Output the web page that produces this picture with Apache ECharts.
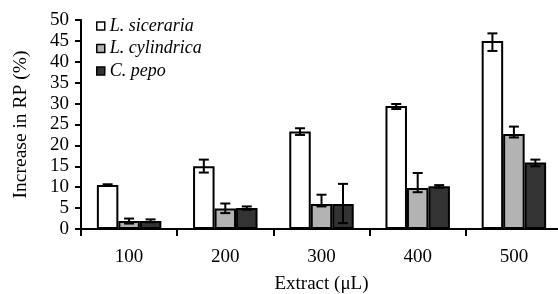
<!DOCTYPE html>
<html><head><meta charset="utf-8">
<script src="https://cdn.jsdelivr.net/npm/echarts@6/dist/echarts.min.js"></script>
<style>html,body{margin:0;padding:0;background:#fff}#c{width:558px;height:294px}</style>
</head><body><div id="c"></div>
<script>
const categories = ['100', '200', '300', '400', '500'];
const seriesNames = ['L. siceraria', 'L. cylindrica', 'C. pepo'];
const sicerariaValues = [10.5, 15.0, 23.3, 29.4, 45.0];
const sicerariaLow  = [10.3, 13.5, 22.5, 28.7, 42.6];
const sicerariaHigh = [10.7, 16.6, 24.1, 29.9, 46.8];
const cylindricaValues = [1.9, 4.9, 6.0, 9.8, 22.7];
const cylindricaLow  = [1.3, 3.8, 5.4, 8.8, 21.9];
const cylindricaHigh = [2.5, 6.1, 8.2, 13.4, 24.5];
const pepoValues = [1.9, 5.0, 6.0, 10.2, 15.9];
const pepoLow  = [1.6, 4.6, 1.4, 9.9, 15.0];
const pepoHigh = [2.3, 5.4, 10.8, 10.5, 16.6];
const yTicks = { min: 0, max: 50, interval: 5 };

const font = '"Liberation Serif", "Times New Roman", serif';
const fills = ['#ffffff', '#b3b3b3', '#333333'];
const values = [sicerariaValues, cylindricaValues, pepoValues];
const lows = [sicerariaLow, cylindricaLow, pepoLow];
const highs = [sicerariaHigh, cylindricaHigh, pepoHigh];
const gapRatio = 0.33;

const series = [];
seriesNames.forEach((name, k) => {
  series.push({
    name: name, type: 'bar', data: values[k],
    barCategoryGap: '33%', barGap: '0%',
    itemStyle: { color: fills[k], borderColor: '#000', borderWidth: 2 },
    z: 2
  });
});
seriesNames.forEach((name, k) => {
  series.push({
    type: 'custom', z: 5, silent: true,
    data: categories.map((c, i) => [i, lows[k][i], highs[k][i]]),
    renderItem: function (params, api) {
      const ci = api.value(0), lo = api.value(1), hi = api.value(2);
      const band = api.size([1, 0])[0];
      const bw = band * (1 - gapRatio) / 3;
      const off = (k - 1) * bw;
      const pHi = api.coord([ci, hi]);
      const pLo = api.coord([ci, lo]);
      const x = pHi[0] + off;
      const cap = 5;
      const st = { stroke: '#000', lineWidth: 2 };
      return { type: 'group', children: [
        { type: 'line', shape: { x1: x, y1: pHi[1], x2: x, y2: pLo[1] }, style: st },
        { type: 'line', shape: { x1: x - cap, y1: pHi[1], x2: x + cap, y2: pHi[1] }, style: st },
        { type: 'line', shape: { x1: x - cap, y1: pLo[1], x2: x + cap, y2: pLo[1] }, style: st }
      ]};
    }
  });
});

const chart = echarts.init(document.getElementById('c'), null, { renderer: 'canvas' });
chart.setOption({
  animation: false,
  backgroundColor: '#fff',
  grid: { left: 81, top: 20, width: 481, bottom: 65, containLabel: false, outerBoundsMode: 'none' },
  legend: {
    data: seriesNames, orient: 'vertical', left: 91, top: 12,
    icon: 'rect', itemWidth: 8, itemHeight: 8, itemGap: 4.5,
    itemStyle: { borderColor: '#000', borderWidth: 1.5 },
    textStyle: { fontFamily: font, fontSize: 18, fontStyle: 'italic', color: '#000', lineHeight: 18 }
  },
  xAxis: {
    type: 'category', data: categories,
    name: 'Extract (\u03bcL)', nameLocation: 'middle', nameGap: 46,
    nameTextStyle: { fontFamily: font, fontSize: 19, color: '#000' },
    axisLine: { lineStyle: { color: '#000', width: 2 } },
    axisTick: { show: true, length: 7, lineStyle: { color: '#000', width: 2 } },
    axisLabel: { fontFamily: font, fontSize: 19, color: '#000', margin: 19 }
  },
  yAxis: {
    type: 'value', min: yTicks.min, max: yTicks.max, interval: yTicks.interval,
    name: 'Increase in RP (%)', nameLocation: 'middle', nameGap: 50, nameRotate: 90,
    nameTextStyle: { fontFamily: font, fontSize: 19.5, color: '#000' },
    axisLine: { show: true, lineStyle: { color: '#000', width: 2 } },
    axisTick: { show: true, length: 6, lineStyle: { color: '#000', width: 2 } },
    axisLabel: { fontFamily: font, fontSize: 19, color: '#000', margin: 12 },
    splitLine: { show: false }
  },
  series: series
});
</script></body></html>
